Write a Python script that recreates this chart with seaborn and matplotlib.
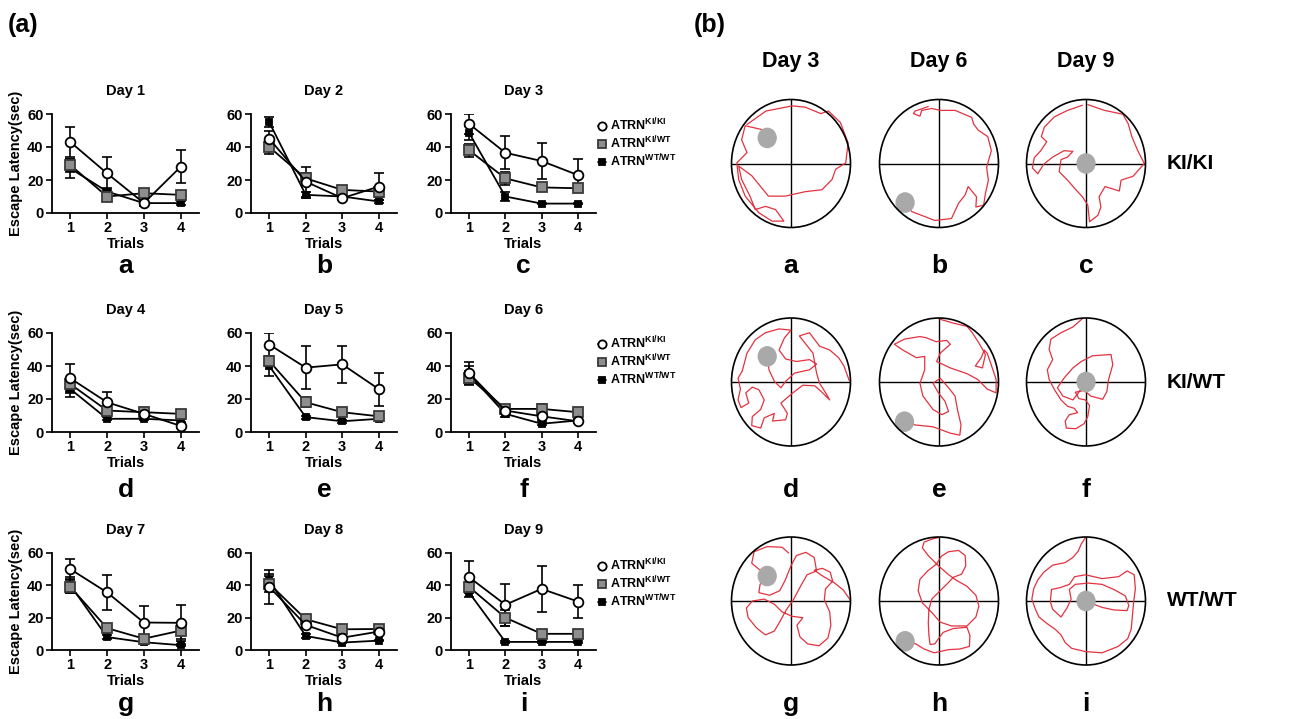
import numpy as np
import pandas as pd
import matplotlib
matplotlib.use('Agg')
import matplotlib.pyplot as plt
from matplotlib.patches import Circle
from matplotlib.lines import Line2D
import seaborn as sns

# ---------------- (a) escape latency per day ----------------
trials = [1, 2, 3, 4]
days = ['Day 1', 'Day 2', 'Day 3', 'Day 4', 'Day 5', 'Day 6', 'Day 7', 'Day 8', 'Day 9']
letters_a = ['a', 'b', 'c', 'd', 'e', 'f', 'g', 'h', 'i']
genotypes = ['KI/KI', 'KI/WT', 'WT/WT']
legend_labels = [r'ATRN$^{\mathrm{KI/KI}}$', r'ATRN$^{\mathrm{KI/WT}}$', r'ATRN$^{\mathrm{WT/WT}}$']

ki_ki_mean = [[43, 24, 6, 28], [45, 19, 9, 16], [54, 36.5, 31.5, 23],
              [32.5, 18, 11, 3.7], [53, 39, 41, 26], [35.6, 13, 9.5, 6.5],
              [50, 35.6, 17, 16.8], [39, 15.5, 7.6, 11.4], [45, 28, 37.8, 30]]
ki_ki_sem = [[9, 10, 2, 10], [5, 9, 1, 8], [6, 10, 11, 10],
             [9, 6, 1.5, 1], [7, 13, 11, 10], [7, 2, 2, 1],
             [6, 11, 10, 11], [10.5, 2, 2, 1], [10, 13, 14, 10]]
ki_wt_mean = [[29, 10, 12, 11], [40, 21, 14, 13], [38, 21, 15.5, 15],
              [29, 13, 12, 11], [43, 18, 12, 9.5], [33, 14, 14, 12],
              [39, 13.5, 7, 12], [41, 19, 12.8, 13], [39, 20, 10, 10]]
ki_wt_sem = [[4, 2, 2, 2], [4, 3, 2, 3], [4, 4, 2, 2],
             [4, 3, 1, 1], [3, 3, 1, 1], [4, 2, 3, 2],
             [4, 2, 2, 5], [5, 2, 2, 1], [3, 5, 1, 1]]
wt_wt_mean = [[27, 13, 6, 6], [55, 11, 10, 7], [48.5, 10, 5.7, 5.7],
              [26, 8, 8, 7], [40, 9, 6.5, 8], [35, 11, 5, 7],
              [40, 8, 4.8, 3], [43, 8.7, 4.6, 5.8], [35.5, 5, 5, 5]]
wt_wt_sem = [[6, 2, 1, 1], [3, 2, 1, 1], [4, 3, 0.5, 0.5],
             [5, 1, 1, 1], [6, 1, 1, 1], [5, 2, 1, 1],
             [5, 1, 1, 0.5], [4, 1, 0.5, 0.5], [3, 0.5, 0.5, 0.5]]

# ---------------- (b) swim paths ----------------
probe_days = ['Day 3', 'Day 6', 'Day 9']
groups = ['KI/KI', 'KI/WT', 'WT/WT']
letters_b = ['a', 'b', 'c', 'd', 'e', 'f', 'g', 'h', 'i']
platform_x = [-0.40, -0.57, 0.0, -0.40, -0.58, 0.0, -0.40, -0.57, 0.0]
platform_y = [0.40, -0.61, 0.0, 0.40, -0.62, 0.0, 0.39, -0.63, 0.0]

path_a = [(-0.44, 0.52), (-0.77, 0.59), (-0.83, 0.37), (-0.74, 0.17), (-0.91, 0.01),
          (-0.88, -0.25), (-0.77, -0.51), (-0.54, -0.77), (-0.32, -0.90), (-0.12, -0.90),
          (-0.26, -0.72), (-0.43, -0.67), (-0.60, -0.72), (-0.69, -0.51), (-0.83, -0.25),
          (-0.88, -0.04), (-0.66, -0.19), (-0.38, -0.51), (-0.10, -0.51), (0.24, -0.44),
          (0.52, -0.41), (0.69, -0.25), (0.75, -0.09), (0.92, 0.01), (0.96, 0.32),
          (0.83, 0.64), (0.63, 0.82), (0.50, 0.78), (0.24, 0.88), (0.02, 0.90),
          (-0.42, 0.82), (-0.74, 0.61)]
path_b = [(-0.57, -0.61), (-0.46, -0.75), (-0.07, -0.89), (0.21, -0.86), (0.33, -0.62),
          (0.44, -0.49), (0.49, -0.36), (0.63, -0.52), (0.62, -0.68), (0.75, -0.65),
          (0.78, -0.47), (0.83, -0.26), (0.80, -0.06), (0.88, 0.20), (0.82, 0.42),
          (0.66, 0.52), (0.58, 0.62), (0.55, 0.72), (0.27, 0.83), (0.02, 0.83),
          (-0.12, 0.86), (-0.29, 0.83), (-0.32, 0.74), (-0.43, 0.78), (-0.40, 0.82),
          (-0.18, 0.89)]
path_c = [(-0.06, 0.91), (-0.31, 0.83), (-0.53, 0.73), (-0.70, 0.57), (-0.75, 0.42),
          (-0.66, 0.34), (-0.76, 0.20), (-0.87, 0.09), (-0.90, -0.07), (-0.81, -0.16),
          (-0.71, -0.01), (-0.56, 0.10), (-0.37, 0.20), (-0.22, 0.19), (-0.31, 0.10),
          (-0.42, 0.06), (-0.45, -0.13), (-0.31, -0.26), (-0.17, -0.41), (-0.06, -0.52),
          (0.03, -0.65), (0.06, -0.91), (0.20, -0.81), (0.25, -0.68), (0.22, -0.52),
          (0.32, -0.36), (0.56, -0.43), (0.59, -0.26), (0.79, -0.20), (0.98, 0.0),
          (0.87, 0.20), (0.77, 0.42), (0.71, 0.62), (0.62, 0.77), (0.31, 0.83),
          (0.03, 0.92)]
path_d = [(-0.40, 0.40), (-0.37, 0.19), (-0.28, 0.01), (-0.17, -0.09), (-0.09, 0.01),
          (0.06, 0.14), (0.31, 0.19), (0.43, 0.28), (0.31, 0.35), (0.09, 0.32),
          (-0.09, 0.36), (-0.20, 0.50), (-0.11, 0.69), (0.0, 0.81), (-0.20, 0.83),
          (-0.43, 0.77), (-0.60, 0.66), (-0.74, 0.45), (-0.82, 0.17), (-0.89, 0.06),
          (-0.85, -0.11), (-0.89, -0.28), (-0.84, -0.40), (-0.71, -0.33), (-0.76, -0.17),
          (-0.65, -0.08), (-0.54, -0.12), (-0.45, -0.28), (-0.51, -0.43), (-0.65, -0.54),
          (-0.66, -0.68), (-0.51, -0.72), (-0.45, -0.56), (-0.28, -0.49), (-0.31, -0.61),
          (-0.09, -0.59), (-0.06, -0.49), (-0.17, -0.33), (0.03, -0.17), (0.20, -0.05),
          (0.40, -0.06), (0.51, -0.15), (0.65, -0.28), (0.59, -0.18), (0.48, -0.02),
          (0.43, 0.14), (0.37, 0.45), (0.14, 0.72), (0.31, 0.77), (0.48, 0.56),
          (0.65, 0.50), (0.80, 0.38), (0.89, 0.25), (0.98, 0.02)]
path_e = [(-0.58, -0.62), (-0.41, -0.67), (-0.10, -0.70), (0.19, -0.80), (0.35, -0.83),
          (0.37, -0.67), (0.31, -0.43), (0.27, -0.22), (0.16, -0.09), (0.02, 0.06),
          (-0.10, -0.02), (-0.01, -0.17), (0.10, -0.30), (0.16, -0.46), (0.05, -0.51),
          (-0.10, -0.43), (-0.27, -0.22), (-0.32, -0.02), (-0.24, 0.19), (-0.24, 0.40),
          (-0.38, 0.38), (-0.61, 0.50), (-0.75, 0.59), (-0.58, 0.67), (-0.32, 0.71),
          (-0.21, 0.69), (-0.05, 0.63), (0.13, 0.65), (0.19, 0.59), (0.02, 0.45),
          (-0.04, 0.32), (0.19, 0.22), (0.47, 0.13), (0.65, 0.04), (0.81, -0.11),
          (0.96, -0.17), (0.96, 0.04), (0.87, 0.29), (0.81, 0.45), (0.76, 0.50),
          (0.71, 0.38), (0.61, 0.25), (0.73, 0.22), (0.78, 0.43), (0.67, 0.61),
          (0.56, 0.77), (0.47, 0.87), (0.24, 0.92), (0.02, 0.98)]
path_f = [(-0.06, 0.99), (-0.22, 0.86), (-0.42, 0.77), (-0.59, 0.67), (-0.62, 0.51),
          (-0.56, 0.35), (-0.65, 0.19), (-0.62, 0.04), (-0.53, -0.12), (-0.42, -0.28),
          (-0.31, -0.38), (-0.20, -0.41), (-0.14, -0.48), (-0.28, -0.51), (-0.35, -0.61),
          (-0.33, -0.72), (-0.17, -0.73), (-0.03, -0.65), (0.03, -0.54), (0.06, -0.37),
          (-0.01, -0.28), (-0.12, -0.26), (-0.18, -0.16), (-0.03, -0.13), (0.08, -0.22),
          (0.28, -0.27), (0.35, -0.15), (0.38, 0.04), (0.45, 0.27), (0.42, 0.43),
          (0.11, 0.41), (-0.08, 0.32), (-0.22, 0.22), (-0.37, 0.06), (-0.48, -0.09),
          (-0.39, -0.22), (-0.22, -0.28), (-0.08, -0.11), (0.0, -0.02)]
path_g = [(-0.04, 0.75), (-0.15, 0.84), (-0.40, 0.85), (-0.62, 0.77), (-0.66, 0.59),
          (-0.53, 0.49), (-0.40, 0.39), (-0.52, 0.26), (-0.54, 0.13), (-0.36, 0.09),
          (-0.19, 0.16), (-0.10, 0.32), (0.0, 0.55), (0.09, 0.71), (0.25, 0.76),
          (0.39, 0.68), (0.43, 0.47), (0.27, 0.41), (0.16, 0.23), (0.04, 0.02),
          (-0.08, -0.14), (-0.18, -0.31), (-0.28, -0.47), (-0.43, -0.53), (-0.58, -0.42),
          (-0.72, -0.26), (-0.75, -0.11), (-0.65, 0.0), (-0.45, 0.03), (-0.28, -0.05),
          (-0.15, -0.17), (0.02, -0.24), (0.20, -0.26), (0.10, -0.38), (0.15, -0.56),
          (0.28, -0.67), (0.47, -0.70), (0.62, -0.58), (0.67, -0.38), (0.65, -0.17),
          (0.56, 0.02), (0.58, 0.19), (0.70, 0.31), (0.66, 0.45), (0.53, 0.51),
          (0.39, 0.48), (0.55, 0.38), (0.72, 0.29), (0.88, 0.17), (1.0, 0.01)]
path_h = [(-0.57, -0.63), (-0.39, -0.67), (-0.25, -0.75), (-0.08, -0.81), (0.16, -0.76),
          (0.35, -0.75), (0.51, -0.71), (0.52, -0.54), (0.47, -0.41), (0.24, -0.43),
          (0.07, -0.49), (-0.01, -0.59), (-0.07, -0.67), (-0.15, -0.68), (-0.17, -0.53),
          (-0.18, -0.34), (-0.17, -0.13), (-0.12, 0.03), (0.02, 0.16), (0.16, 0.29),
          (0.24, 0.37), (0.38, 0.42), (0.45, 0.55), (0.44, 0.71), (0.33, 0.79),
          (0.16, 0.77), (0.04, 0.70), (-0.04, 0.58), (-0.19, 0.47), (-0.32, 0.34),
          (-0.35, 0.16), (-0.28, -0.03), (-0.12, -0.18), (0.02, -0.33), (0.21, -0.39),
          (0.47, -0.39), (0.62, -0.25), (0.67, -0.08), (0.62, 0.09), (0.47, 0.23),
          (0.28, 0.33), (0.15, 0.42), (-0.01, 0.55), (-0.18, 0.71), (-0.28, 0.83),
          (-0.25, 0.92), (-0.11, 0.97), (-0.01, 0.99)]
path_i = [(-0.01, 0.99), (-0.08, 0.89), (-0.13, 0.78), (-0.22, 0.68), (-0.35, 0.60),
          (-0.56, 0.56), (-0.71, 0.45), (-0.81, 0.33), (-0.88, 0.19), (-0.91, 0.03),
          (-0.85, -0.13), (-0.79, -0.25), (-0.66, -0.35), (-0.52, -0.44), (-0.42, -0.53),
          (-0.35, -0.65), (-0.24, -0.74), (-0.01, -0.79), (0.27, -0.81), (0.54, -0.71),
          (0.70, -0.59), (0.76, -0.44), (0.78, -0.23), (0.80, -0.02), (0.83, 0.19),
          (0.81, 0.41), (0.69, 0.47), (0.55, 0.38), (0.27, 0.35), (-0.01, 0.41),
          (-0.19, 0.38), (-0.28, 0.26), (-0.43, 0.21), (-0.58, 0.18), (-0.60, -0.01),
          (-0.56, -0.13), (-0.42, -0.25), (-0.32, -0.11), (-0.25, 0.03), (-0.28, 0.18),
          (-0.18, 0.26), (0.04, 0.28), (0.27, 0.26), (0.49, 0.17), (0.66, 0.08),
          (0.72, -0.07), (0.69, -0.15), (0.47, -0.14), (0.27, -0.10), (0.10, -0.04),
          (0.0, 0.0)]
paths = [path_a, path_b, path_c, path_d, path_e, path_f, path_g, path_h, path_i]

# long table for the latency panels
rows = []
for d, day in enumerate(days):
    for g, means, sems in zip(genotypes, [ki_ki_mean, ki_wt_mean, wt_wt_mean],
                              [ki_ki_sem, ki_wt_sem, wt_wt_sem]):
        for t in range(4):
            rows.append([day, g, trials[t], means[d][t], sems[d][t]])
df = pd.DataFrame(rows, columns=['day', 'genotype', 'trial', 'latency', 'sem'])

sns.set_style('ticks')
plt.rcParams['font.family'] = ['Liberation Sans', 'DejaVu Sans']
plt.rcParams['font.weight'] = 'bold'
plt.rcParams['axes.labelweight'] = 'bold'
plt.rcParams['axes.titleweight'] = 'bold'
plt.rcParams['text.color'] = 'black'
plt.rcParams['axes.labelcolor'] = 'black'
plt.rcParams['axes.edgecolor'] = 'black'
plt.rcParams['xtick.color'] = 'black'
plt.rcParams['ytick.color'] = 'black'
plt.rcParams['mathtext.fontset'] = 'custom'
plt.rcParams['mathtext.rm'] = 'Liberation Sans:bold'
plt.rcParams['mathtext.bf'] = 'Liberation Sans:bold'
plt.rcParams['mathtext.it'] = 'Liberation Sans:bold'

W, H = 1290, 719
fig = plt.figure(figsize=(12.9, 7.19), dpi=100)


def px_axes(x0, y0, x1, y1):
    return fig.add_axes([x0 / W, 1 - y1 / H, (x1 - x0) / W, (y1 - y0) / H])


styles = {
    'KI/KI': dict(marker='o', markerfacecolor='white', markeredgecolor='black', markersize=7, zorder=5),
    'KI/WT': dict(marker='s', markerfacecolor='#8e8e8e', markeredgecolor='#3a3a3a', markersize=6.5, zorder=4),
    'WT/WT': dict(marker='s', markerfacecolor='black', markeredgecolor='black', markersize=4.5, zorder=3),
}

col_x = [(52, 199), (251, 397), (451, 596)]
row_y = [(114, 213), (333, 432), (553, 650)]
letter_base = [273, 497, 711]
legend_top = [117, 335, 557]

for i, day in enumerate(days):
    r, c = divmod(i, 3)
    ax = px_axes(col_x[c][0], row_y[r][0], col_x[c][1], row_y[r][1])
    sub = df[df['day'] == day]
    for g in genotypes[::-1]:
        s = sub[sub['genotype'] == g]
        ax.errorbar(s['trial'], s['latency'], yerr=s['sem'], fmt='none', ecolor='black',
                    elinewidth=1.2, capsize=3.5, capthick=1.2, zorder=2)
        sns.lineplot(data=s, x='trial', y='latency', ax=ax, color='black', lw=1.3,
                     markeredgewidth=1.3, errorbar=None, legend=False, **styles[g])
    ax.set_xlim(0.5, 4.5)
    ax.set_ylim(0, 60)
    ax.set_xticks(trials)
    ax.set_yticks([0, 20, 40, 60])
    sns.despine(ax=ax)
    for sp in ['left', 'bottom']:
        ax.spines[sp].set_linewidth(1.3)
    ax.tick_params(width=1.2, length=4, labelsize=10.5, pad=2)
    ax.set_title(day, fontsize=10.5, fontweight='bold', pad=14)
    ax.set_xlabel('Trials', fontsize=10.5, fontweight='bold', labelpad=1)
    if c == 0:
        ax.set_ylabel('Escape Latency(sec)', fontsize=10.5, fontweight='bold', labelpad=3)
    else:
        ax.set_ylabel('')
    fig.text((col_x[c][0] + col_x[c][1]) / 2 / W, 1 - letter_base[r] / H, letters_a[i],
             ha='center', va='baseline', fontsize=19, fontweight='bold')
    if c == 2:
        handles = [Line2D([], [], color='black', lw=1.3, markeredgewidth=1.3, **styles[g]) for g in genotypes]
        fig.legend(handles, legend_labels, loc='upper left',
                   bbox_to_anchor=(598 / W, 1 - legend_top[r] / H), frameon=False,
                   fontsize=9, handlelength=0.6, handletextpad=0.4, labelspacing=0.1,
                   markerscale=0.85, borderpad=0, borderaxespad=0)

# ---------------- (b) ----------------
circ_cx = [791, 939, 1086]
circ_cy = [163.5, 382, 601]
rx, ry, pad = 59.5, 64, 1.04

for k in range(9):
    r, c = divmod(k, 3)
    cx, cy = circ_cx[c], circ_cy[r]
    ax = px_axes(cx - rx * pad, cy - ry * pad, cx + rx * pad, cy + ry * pad)
    ax.set_xlim(-pad, pad)
    ax.set_ylim(-pad, pad)
    ax.axis('off')
    ring = Circle((0, 0), 1, fill=False, ec='black', lw=1.2, zorder=4)
    ax.add_patch(ring)
    h = ax.axhline(0, color='black', lw=1.0, zorder=1)
    v = ax.axvline(0, color='black', lw=1.0, zorder=1)
    h.set_clip_path(ring)
    v.set_clip_path(ring)
    pts = np.array(paths[k])
    sns.lineplot(x=pts[:, 0], y=pts[:, 1], sort=False, estimator=None, ax=ax,
                 color='#e2323f', lw=0.9, zorder=2)
    ax.add_patch(Circle((platform_x[k], platform_y[k]), 0.15, color='#a9a9a9', zorder=3))
    fig.text(cx / W, 1 - letter_base[r] / H, letters_b[k], ha='center', va='baseline',
             fontsize=19, fontweight='bold')

for c, pd_label in enumerate(probe_days):
    fig.text(circ_cx[c] / W, 1 - 62 / H, pd_label, ha='center', va='center',
             fontsize=15.5, fontweight='bold')
for r, g in enumerate(groups):
    fig.text(1167 / W, 1 - circ_cy[r] / H, g, ha='left', va='center',
             fontsize=15, fontweight='bold')

fig.text(8 / W, 1 - 25 / H, '(a)', ha='left', va='center', fontsize=18, fontweight='bold')
fig.text(694 / W, 1 - 25 / H, '(b)', ha='left', va='center', fontsize=18, fontweight='bold')

fig.savefig('out.png', dpi=100)
